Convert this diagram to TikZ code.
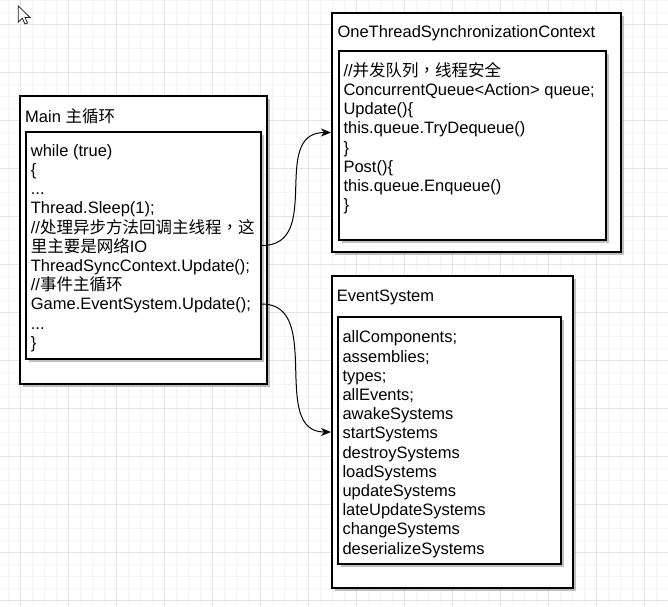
\documentclass[tikz,border=0pt]{standalone}
\usepackage{fontspec}
\setmainfont{Liberation Sans}
\newfontfamily\cjk{Noto Sans CJK SC}
\newfontfamily\cjkp{Noto Sans CJK TC}
\usetikzlibrary{arrows.meta,shadows,calc}
\newcommand\fl{\rule{0pt}{15pt}}
\newcommand\zcomma{{\cjkp ，}}
\definecolor{gridminor}{RGB}{244,244,244}
\definecolor{gridmajor}{RGB}{228,228,228}
\definecolor{cursorc}{RGB}{30,30,50}
\begin{document}
\begin{tikzpicture}[x=1pt,y=-1pt,
  outerbox/.style={draw=black, line width=2pt, fill=white, inner sep=0pt,
    drop shadow={shadow xshift=3pt,shadow yshift=-3pt,fill=black,opacity=0.25}},
  txt/.style={font=\fontsize{16.5}{19.2}\selectfont, inner sep=0pt, align=left, anchor=north west},
  ttl/.style={font=\fontsize{16.5}{19.2}\selectfont, inner sep=0pt, anchor=base west},
  arr/.style={line width=1pt, -{Stealth[length=10pt,width=8pt,inset=3pt]}},
  minor/.style={draw=gridminor, line width=0.8pt},
  major/.style={draw=gridmajor, line width=0.8pt}]
\useasboundingbox (0,0) rectangle (668,606);
\fill[white] (0,0) rectangle (668,606);
% grid
\foreach \k in {0,...,55} \draw[minor] ({8.7+12*\k},0) -- ({8.7+12*\k},606);
\foreach \k in {0,...,50} \draw[minor] (0,{12*\k}) -- (668,{12*\k});
\foreach \k in {0,...,13} \draw[major] ({20.7+48*\k},0) -- ({20.7+48*\k},606);
\foreach \k in {0,...,12} \draw[major] (0,{24+48*\k}) -- (668,{24+48*\k});
% cursor
\draw[cursorc, fill=white, line width=0.8pt, line join=miter]
  (18.3,6) -- (18.3,22) -- (22.3,18.3) -- (25,24) -- (27.5,23) -- (25,17.5) -- (30,17.5) -- cycle;
% boxes
\node[outerbox, minimum width=247, minimum height=288] (main) at (143.5,240) {};
\node[outerbox, minimum width=235, minimum height=227] (mi) at (143.5,245.5) {};
\node[outerbox, minimum width=289, minimum height=239] (ots) at (476.5,132.5) {};
\node[outerbox, minimum width=267, minimum height=189] (oti) at (472.5,145.5) {};
\node[outerbox, minimum width=241, minimum height=312] (es) at (452.5,432) {};
\node[outerbox, minimum width=223, minimum height=247] (esi) at (449.5,440.5) {};
% titles
\node[ttl] (maint) at (25,122) {Main {\cjk 主循环}};
\node[ttl] (otst) at (337.3,37.7) {OneThreadSynchronizationContext};
\node[ttl] (est) at (336.7,301.7) {EventSystem};
% contents
\node[txt] (mainc) at (30.7,141) {\fl while (true)\\ \{\\ ...\\ Thread.Sleep(1);\\
  //{\cjk 处理异步方法回调主线程}\zcomma{\cjk 这}\\ {\cjk 里主要是网络}IO\\ ThreadSyncContext.Update();\\
  //{\cjk 事件主循环}\\ Game.EventSystem.Update();\\ ...\\ \}};
\node[txt] (otic) at (343.3,61) {\fl //{\cjk 并发队列}\zcomma{\cjk 线程安全}\\ ConcurrentQueue<Action> queue;\\
  Update()\{\\ this.queue.TryDequeue()\\ \}\\ Post()\{\\ this.queue.Enqueue()\\ \}};
\node[txt] (esic) at (342.3,327.7) {\fl allComponents;\\ assemblies;\\ types;\\ allEvents;\\
  awakeSystems\\ startSystems\\ destroySystems\\ loadSystems\\ updateSystems\\
  lateUpdateSystems\\ changeSystems\\ deserializeSystems};
% connectors
\draw[arr] (mi.east) .. controls +(62,0) and +(-62,0) .. (ots.west);
\draw[arr] ($(mi.east)+(0,58.5)$) .. controls +(62,0) and +(-62,0) .. (es.west);
\end{tikzpicture}
\end{document}
